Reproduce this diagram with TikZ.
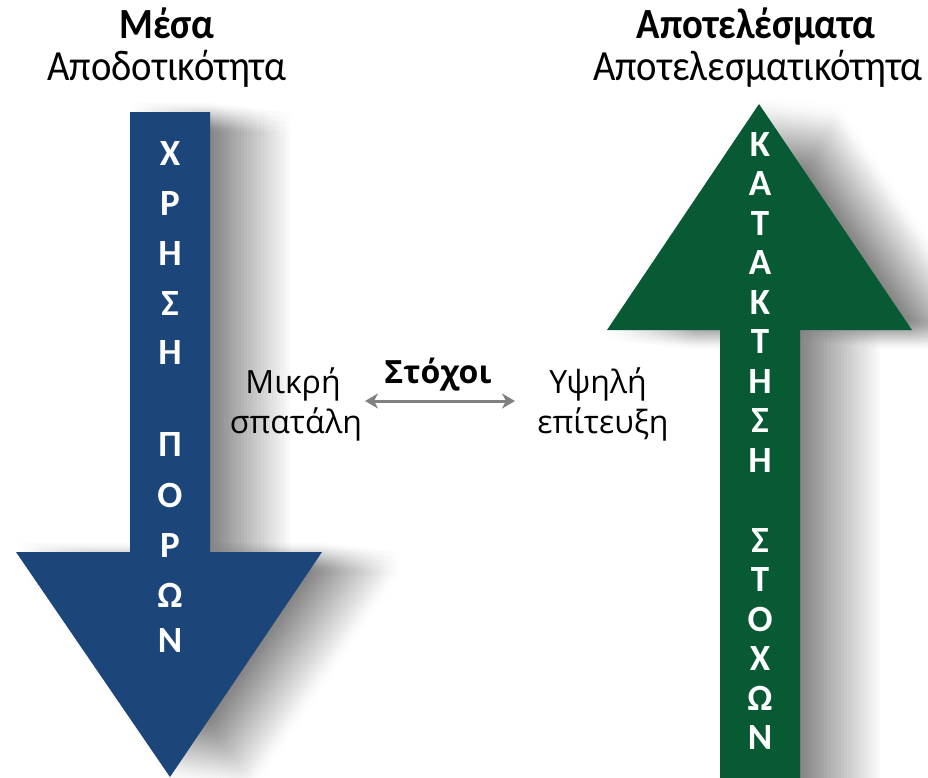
\documentclass[tikz,border=0pt]{standalone}
\usepackage{fontspec}
\setmainfont{Carlito}
\newfontfamily\condfont[FakeStretch=0.9]{Carlito}
\newfontfamily\midfont{Open Sans}
\usetikzlibrary{arrows.meta}
\definecolor{arrblue}{RGB}{28,69,122}
\definecolor{arrgreen}{RGB}{8,90,52}
\definecolor{dblgray}{RGB}{128,128,128}
\tikzset{
  shadowcopy/.style={fill=black, opacity=0.0045},
  arrletter/.style={text=white, font=\fontsize{37}{37}\selectfont\bfseries, inner sep=0pt},
  headlabel/.style={font=\condfont\fontsize{43}{43}\selectfont, inner sep=0pt, anchor=base},
  headbold/.style={headlabel, font=\condfont\fontsize{43}{43}\selectfont\bfseries},
  midlabel/.style={font=\midfont\fontsize{32}{32}\selectfont, inner sep=0pt, anchor=base},
  midbold/.style={midlabel, font=\midfont\fontsize{32}{32}\selectfont\bfseries},
}
\begin{document}
\begin{tikzpicture}[x=1pt,y=-1pt]
\useasboundingbox (0,0) rectangle (928,777);
\fill[white] (0,0) rectangle (928,777);
% soft shadows
\foreach \k in {0,...,24} {
  \foreach \j in {-10,-5,0,5,10} {
    \fill[shadowcopy, xshift=\k*3.3pt+1pt, yshift=-\k*0.4pt+\j pt]
      (130,112) -- (210,112) -- (210,552) -- (322,552) -- (170,777) -- (16,552) -- (130,552) -- cycle;
    \fill[shadowcopy, xshift=\k*3.3pt+1pt, yshift=-\k*0.4pt+\j pt]
      (720,790) -- (720,330) -- (607,330) -- (759,104) -- (912,330) -- (800,330) -- (800,790) -- cycle;
  }
}
% blue down arrow
\fill[arrblue] (130,112) -- (210,112) -- (210,552) -- (322,552) -- (170,777) -- (16,552) -- (130,552) -- cycle;
% green up arrow
\fill[arrgreen] (720,790) -- (720,330) -- (607,330) -- (759,104) -- (912,330) -- (800,330) -- (800,790) -- cycle;
% letters
\foreach \ch/\y [count=\i] in {Χ/153,Ρ/203,Η/253,Σ/303,Η/352,Π/444,Ο/495,Ρ/545,Ω/595,Ν/640}
  \node[arrletter] (b\i) at (170,\y) {\ch};
\foreach \ch/\y [count=\i] in {Κ/144,Α/183.5,Τ/223,Α/262.5,Κ/302,Τ/341.5,Η/381,Σ/420.5,Η/460,Σ/540,Τ/579.5,Ο/619,Χ/658.5,Ω/698,Ν/737.5}
  \node[arrletter] (g\i) at (760,\y) {\ch};
% headings
\node[headbold] (t1) at (167,38) {Μέσα};
\node[headlabel] (t2) at (167,80) {Αποδοτικότητα};
\node[headbold] (t3) at (756,38) {Αποτελέσματα};
\node[headlabel] (t4) at (758,80) {Αποτελεσματικότητα};
% middle
\node[midlabel] (m1) at (293,393) {Μικρή};
\node[midlabel] (m2) at (296,433) {σπατάλη};
\node[midbold] (s) at (438,383) {Στόχοι};
\node[midlabel] (h1) at (598,393) {Υψηλή};
\node[midlabel] (h2) at (603,433) {επίτευξη};
\coordinate (aL) at (365,401);
\coordinate (aR) at (515,401);
\draw[dblgray, line width=3pt, {Stealth[length=13pt,width=15pt,inset=4pt]}-{Stealth[length=13pt,width=15pt,inset=4pt]}] (aL) -- (aR);
\end{tikzpicture}
\end{document}
